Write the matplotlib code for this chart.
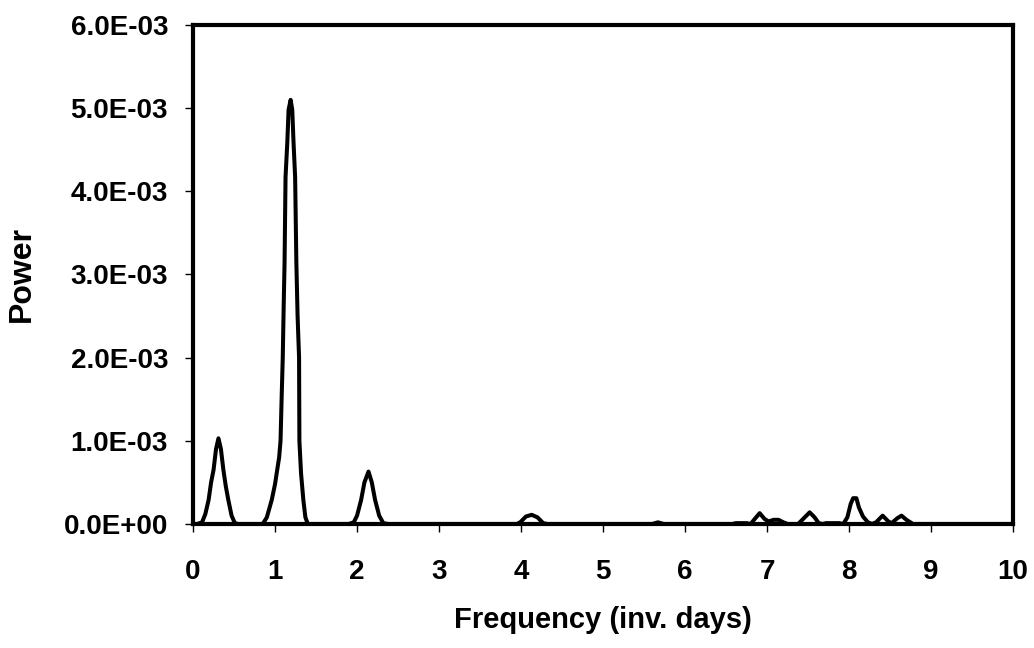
import numpy as np
import matplotlib
matplotlib.use("Agg")
import matplotlib.pyplot as plt
from matplotlib.ticker import FuncFormatter

# periodogram (power in units of 1e-3)
freq = [0.00, 0.05, 0.11, 0.15, 0.19, 0.22, 0.25, 0.28, 0.31, 0.34, 0.37, 0.40, 0.43, 0.47, 0.51, 0.55,
        0.80, 0.85, 0.90, 0.96, 1.00, 1.02, 1.05, 1.067, 1.08, 1.094, 1.105, 1.116, 1.128, 1.15, 1.165,
        1.19, 1.21, 1.225, 1.245, 1.26, 1.275, 1.293, 1.297, 1.317, 1.345, 1.37, 1.40,
        1.90, 1.96, 2.00, 2.05, 2.09, 2.14, 2.18, 2.22, 2.27, 2.32, 2.38,
        3.95, 3.99, 4.06, 4.13, 4.20, 4.27, 4.32,
        5.60, 5.67, 5.74,
        6.58, 6.62, 6.75, 6.80, 6.85, 6.91, 6.97, 7.02, 7.08, 7.14, 7.20, 7.25,
        7.38, 7.44, 7.52, 7.58, 7.63, 7.68, 7.72, 7.88,
        7.93, 7.98, 8.02, 8.05, 8.09, 8.12, 8.17, 8.23, 8.28, 8.33, 8.41, 8.48, 8.52,
        8.59, 8.64, 8.70, 8.78, 10.0]
power = [0.00, 0.00, 0.02, 0.12, 0.29, 0.50, 0.65, 0.90, 1.03, 0.90, 0.65, 0.45, 0.29, 0.10, 0.01, 0.00,
         0.00, 0.00, 0.08, 0.29, 0.48, 0.61, 0.80, 1.00, 1.50, 2.00, 2.60, 3.14, 4.17, 4.60, 4.98,
         5.10, 4.98, 4.60, 4.17, 3.14, 2.50, 2.00, 1.00, 0.61, 0.29, 0.08, 0.00,
         0.00, 0.02, 0.10, 0.29, 0.50, 0.63, 0.50, 0.29, 0.10, 0.01, 0.00,
         0.00, 0.02, 0.09, 0.11, 0.08, 0.01, 0.00,
         0.00, 0.02, 0.00,
         0.00, 0.01, 0.01, 0.00, 0.06, 0.13, 0.06, 0.03, 0.05, 0.05, 0.02, 0.00,
         0.00, 0.06, 0.14, 0.08, 0.01, 0.00, 0.01, 0.01,
         0.00, 0.08, 0.24, 0.31, 0.31, 0.20, 0.09, 0.02, 0.00, 0.02, 0.10, 0.03, 0.01,
         0.07, 0.10, 0.05, 0.00, 0.00]

power = np.array(power) * 1e-3

plt.rcParams['font.family'] = ['Liberation Sans', 'DejaVu Sans']
plt.rcParams['font.weight'] = 'bold'

fig = plt.figure(figsize=(10.34, 6.48), dpi=100)
ax = fig.add_axes([0.1867, 0.1914, 0.7930, 0.7700])

ax.plot(freq, power, color='black', lw=2.9, solid_joinstyle='round', solid_capstyle='round')

ax.set_xlim(0, 10)
ax.set_ylim(0, 6e-3)
ax.set_xticks(range(0, 11))
ax.set_yticks(np.arange(0, 7) * 1e-3)
ax.yaxis.set_major_formatter(FuncFormatter(lambda v, p: f"{v:.1E}"))

for s in ax.spines.values():
    s.set_linewidth(3)
ax.tick_params(direction='out', length=6, width=1, labelsize=20, pad=12)
ax.tick_params(axis='x', pad=19)

ax.set_xlabel('Frequency (inv. days)', fontsize=21, fontweight='bold', labelpad=15)
ax.set_ylabel('Power', fontsize=23, fontweight='bold', labelpad=19)

fig.savefig('out.png', dpi=100)
